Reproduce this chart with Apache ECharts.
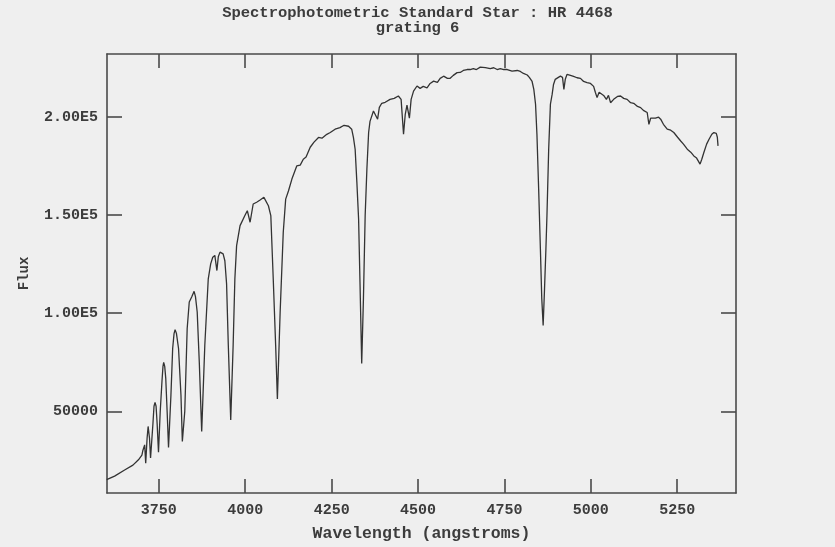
<!DOCTYPE html>
<html>
<head>
<meta charset="utf-8">
<script src="https://cdn.jsdelivr.net/npm/echarts@6/dist/echarts.min.js"></script>
<style>
html,body{margin:0;padding:0;background:#efefef;}
#chart{width:835px;height:547px;}
</style>
</head>
<body>
<div id="chart"></div>
<script>
const wavelength = [
3599,3622,3651,3675,3691,3701,3704,3709,3712,3716,3719,3723,3726,3733,3736,3739,3742,3745,3749,
3754,3759,3762,3764,3767,3770,3774,3778,3785,3790,3794,3797,3801,3807,3814,3818,
3825,3832,3838,3845,3849,3852,3856,3861,3867,3874,
3883,3893,3900,3906,3912,3918,3922,3927,3936,3941,3946,3951,3958,3965,3970,3975,3985,3999,4006,4014,4023,
4033,4043,4054,4067,4074,4081,4088,4093,4101,4110,4117,4125,4135,4149,4159,4168,4176,4188,4199,4212,
4222,4236,4246,4260,4274,4286,4299,4308,4313,4318,4323,4328,4332,4337,4342,4347,4352,4357,4361,4371,
4376,4383,4388,4395,4405,4419,4431,4443,4451,4458,4463,4468,4475,4480,4487,4497,4506,4515,4526,4535,
4545,4556,4564,4574,4585,4593,4602,4613,4622,4631,4642,4651,4660,4669,4680,4695,4709,4719,4729,4738,
4748,4758,4772,4787,4796,4805,4816,4822,4830,4835,4840,4844,4849,4854,4858,4862,4866,4870,4873,4878,
4883,4888,4892,4897,4906,4912,4918,4922,4926,4931,4941,4950,4960,4970,4979,4989,4999,5008,5013,5018,
5024,5028,5037,5045,5051,5057,5066,5077,5086,5095,5105,5115,5124,5135,5144,5152,5163,5168,5173,5178,
5187,5196,5202,5210,5221,5231,5240,5251,5260,5268,5279,5289,5298,5306,5316,5321,5327,5335,5342,5350,
5356,5363,5366,5368
];
const flux = [
15200,17000,20100,22600,25300,27700,30200,32900,23600,36300,42300,36300,26200,43900,52600,54600,52600,43900,29200,
49900,65100,72900,74900,72900,66800,49900,31600,58300,82000,89600,91600,89600,82000,58300,34600,
49900,92200,105700,108200,109900,111100,108400,100600,75300,39700,
83700,117500,125100,128500,129400,121700,128700,131100,130200,126700,115000,83700,45600,83700,117500,134400,144600,149700,152200,146300,155600,
156500,157600,159000,154700,149700,117500,83700,56300,100600,141200,158100,162200,168300,175000,175400,178400,179500,184500,187100,189500,
189100,191100,192000,193700,194500,195700,195200,193700,189500,183500,166600,148000,115900,74400,107400,149700,173400,192000,197700,203000,
203800,198800,204800,206900,207400,208900,209400,210600,208900,191100,201300,205900,199300,208900,213100,215700,214500,215500,214800,217000,
218200,217500,219600,220700,219600,219600,221100,222500,222600,223600,224100,224100,224600,224100,225300,225100,224600,225000,224100,224600,
224100,224100,223300,223600,223100,222100,221300,220100,218000,214000,206400,191100,163200,132800,107400,93700,112500,132800,149700,183500,
206400,211400,216500,219100,220100,220700,220100,214000,219100,221600,221100,220600,219900,219600,218000,217400,217000,215500,212500,209800,
212500,213100,210900,208900,210900,207200,208900,210400,210600,209400,208900,207200,206900,205300,204700,203300,202200,196200,199300,199600,
199300,199800,198800,196200,193700,193200,192000,189600,187700,186100,183500,182000,180100,179000,175900,178400,181800,186100,188600,191100,
192000,191600,189600,185200
];
const xTicks = [3750, 4000, 4250, 4500, 4750, 5000, 5250];
const yTicks = [50000, 100000, 150000, 200000];
const yTickLabels = ['50000', '1.00E5', '1.50E5', '2.00E5'];

const FONT = 'Liberation Mono';
const TXT = '#3c3c3c';
const AX = '#4a4a4a';
const chart = echarts.init(document.getElementById('chart'));
const baseAxisLine = {show: true, onZero: false, lineStyle: {color: AX, width: 1.6}};
chart.setOption({
  backgroundColor: '#efefef',
  animation: false,
  title: [
    {text: 'Spectrophotometric Standard Star : HR 4468', left: 'center', top: 0,
     textStyle: {fontFamily: FONT, fontWeight: 'bold', fontSize: 15.5, color: TXT}},
    {text: 'grating 6', left: 'center', top: 15,
     textStyle: {fontFamily: FONT, fontWeight: 'bold', fontSize: 15.5, color: TXT}}
  ],
  grid: {left: 107, right: 99, top: 54, bottom: 52},
  xAxis: [
    {type: 'value', min: 3600, max: 5420, position: 'bottom',
     name: 'Wavelength (angstroms)', nameLocation: 'middle', nameGap: 32,
     nameTextStyle: {fontFamily: FONT, fontWeight: 'bold', fontSize: 16.5, color: TXT},
     axisLine: baseAxisLine,
     axisTick: {show: true, inside: true, length: 14, customValues: xTicks, lineStyle: {color: AX, width: 1.6}},
     axisLabel: {show: true, customValues: xTicks, margin: 10, fontFamily: FONT, fontWeight: 'bold', fontSize: 15, color: TXT,
       formatter: function (v) { return String(v); }},
     splitLine: {show: false}},
    {type: 'value', min: 3600, max: 5420, position: 'top',
     axisLine: baseAxisLine,
     axisTick: {show: true, inside: true, length: 14, customValues: xTicks, lineStyle: {color: AX, width: 1.6}},
     axisLabel: {show: false},
     splitLine: {show: false}}
  ],
  yAxis: [
    {type: 'value', min: 8400, max: 232000, position: 'left',
     name: 'Flux', nameLocation: 'middle', nameGap: 76, nameRotate: 90,
     nameTextStyle: {fontFamily: FONT, fontWeight: 'bold', fontSize: 14, color: TXT},
     axisLine: baseAxisLine,
     axisTick: {show: true, inside: true, length: 15, customValues: yTicks, lineStyle: {color: AX, width: 1.6}},
     axisLabel: {show: true, customValues: yTicks, margin: 9, fontFamily: FONT, fontWeight: 'bold', fontSize: 15, color: TXT,
       formatter: function (v) { const i = yTicks.indexOf(v); return i >= 0 ? yTickLabels[i] : ''; }},
     splitLine: {show: false}},
    {type: 'value', min: 8400, max: 232000, position: 'right',
     axisLine: baseAxisLine,
     axisTick: {show: true, inside: true, length: 15, customValues: yTicks, lineStyle: {color: AX, width: 1.6}},
     axisLabel: {show: false},
     splitLine: {show: false}}
  ],
  series: [{
    type: 'line',
    xAxisIndex: 0, yAxisIndex: 0,
    data: wavelength.map((w, i) => [w, flux[i]]),
    showSymbol: false,
    symbol: 'none',
    smooth: false,
    lineStyle: {color: '#333333', width: 1.3},
    z: 3
  }]
});
</script>
</body>
</html>
